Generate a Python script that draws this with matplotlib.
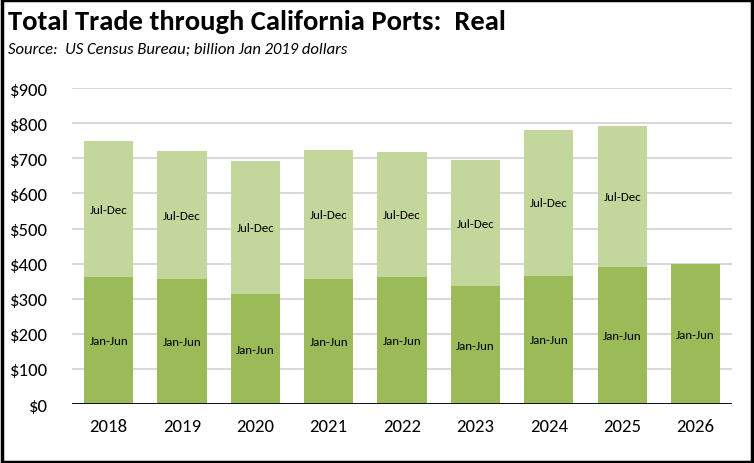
import matplotlib.pyplot as plt
from matplotlib.patches import Rectangle
import numpy as np

plt.rcParams['font.family'] = ['Carlito', 'Lato', 'DejaVu Sans']

years = ["2018", "2019", "2020", "2021", "2022", "2023", "2024", "2025", "2026"]
jan_jun = [362, 356, 313, 356, 362, 336, 365, 390, 399]
totals = [749, 721, 692, 724, 718, 695, 781, 792, None]
jul_dec = [t - j if t is not None else 0 for t, j in zip(totals, jan_jun)]
y_ticks = [0, 100, 200, 300, 400, 500, 600, 700, 800, 900]

C_H1 = "#9BBB59"
C_H2 = "#C3D69B"

fig = plt.figure(figsize=(7.54, 4.64), dpi=100)
ax = fig.add_axes([0.0955, 0.127, 0.8755, 0.681])

x = np.arange(len(years))
w = 0.67
ax.bar(x, jan_jun, w, color=C_H1, zorder=2)
ax.bar(x, jul_dec, w, bottom=jan_jun, color=C_H2, zorder=2)

for xi, a, b in zip(x, jan_jun, jul_dec):
    ax.text(xi, a / 2, "Jan-Jun", ha="center", va="center", fontsize=9.3, zorder=3)
    if b > 0:
        ax.text(xi, a + b / 2, "Jul-Dec", ha="center", va="center", fontsize=9.3, zorder=3)

ax.set_xlim(-0.5, len(years) - 0.5)
ax.set_ylim(0, 900)
ax.set_yticks(y_ticks)
ax.set_yticklabels([f"${v}" for v in y_ticks])
ax.set_xticks(x)
ax.set_xticklabels(years)
ax.tick_params(length=0, labelsize=13.5)
ax.tick_params(axis="x", pad=10)
ax.tick_params(axis="y", pad=17)
ax.grid(axis="y", color="#D9D9D9", lw=1.5, zorder=0)
ax.axhline(0, color="black", lw=2, zorder=4)
for s in ax.spines.values():
    s.set_visible(False)

fig.text(0.011, 0.952, "Total Trade through California Ports:  Real",
         fontsize=20.5, fontweight="bold", va="center")
fig.text(0.011, 0.893, "Source:  US Census Bureau; billion Jan 2019 dollars",
         fontsize=12, style="italic", va="center")

fig.patches.append(Rectangle((0.002, 0.003), 0.995, 0.994, transform=fig.transFigure,
                             fill=False, edgecolor="black", lw=2.5))

fig.savefig("out.png", dpi=100)
